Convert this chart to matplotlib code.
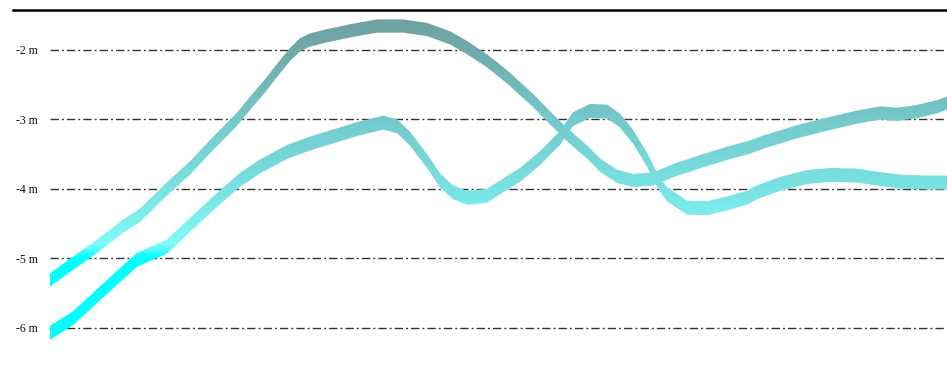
import numpy as np
import matplotlib
matplotlib.use("Agg")
import matplotlib.pyplot as plt
from matplotlib.colors import LinearSegmentedColormap, Normalize
from matplotlib.lines import Line2D

# ---- data (x = sample position, y = depth in metres) ----
track_a_x = [0, 20, 40, 73, 90, 117, 140, 163, 187, 203, 215, 227, 240, 250, 260, 277, 300,
             327, 353, 377, 400, 417, 437, 457, 483, 500, 517, 537, 550, 567, 583, 603, 623,
             650, 677, 700, 713, 747, 780, 807, 830, 847, 867, 887, 897]
track_a_y = [-5.31, -5.10, -4.90, -4.54, -4.38, -4.00, -3.70, -3.35, -3.00, -2.72, -2.52,
             -2.30, -2.07, -1.93, -1.86, -1.80, -1.73, -1.66, -1.66, -1.71, -1.83, -1.97,
             -2.16, -2.39, -2.73, -2.98, -3.22, -3.47, -3.66, -3.82, -3.88, -3.86, -3.74,
             -3.61, -3.49, -3.40, -3.33, -3.18, -3.06, -2.97, -2.91, -2.93, -2.89, -2.82, -2.77]

track_b_x = [0, 23, 57, 87, 117, 140, 167, 190, 210, 237, 260, 287, 310, 333, 347, 360, 377,
             390, 403, 417, 437, 450, 470, 490, 510, 523, 540, 557, 570, 583, 597, 607, 617,
             637, 657, 677, 697, 707, 730, 757, 780, 807, 830, 853, 880, 897]
track_b_y = [-6.07, -5.86, -5.41, -5.02, -4.83, -4.52, -4.16, -3.87, -3.68, -3.47, -3.35, -3.23,
             -3.13, -3.05, -3.10, -3.28, -3.60, -3.88, -4.05, -4.13, -4.10, -3.98, -3.80, -3.56,
             -3.27, -3.00, -2.88, -2.89, -3.02, -3.25, -3.58, -3.87, -4.08, -4.27, -4.28, -4.21,
             -4.13, -4.05, -3.93, -3.83, -3.80, -3.81, -3.86, -3.90, -3.91, -3.91]

tick_values = [-6, -5, -4, -3, -2]
tick_labels = ["-6 m", "-5 m", "-4 m", "-3 m", "-2 m"]

# colour ramp by depth
ramp_levels = [-6.2, -5.0, -4.8, -4.0, -3.0, -2.0, -1.5]
ramp_colors = ["#00FFFF", "#00FFFF", "#80FAFA", "#78E3E3", "#74CACA", "#70AAAA", "#6EA0A0"]

W, H = 947, 369
fig = plt.figure(figsize=(W / 100, H / 100), dpi=100)
ax = fig.add_axes([50 / W, 0, 1 - 50 / W, 1 - 10 / H])

ymin, ymax = -6.59, -1.43
ax.set_xlim(0, 897)
ax.set_ylim(ymin, ymax)

plt.rcParams["lines.scale_dashes"] = False
for v in tick_values:
    ax.axhline(v, color="#333333", lw=1.0, dashes=(6, 2.2, 1.4, 2.2), zorder=1)

lo, hi = ramp_levels[0], ramp_levels[-1]
pos = [(l - lo) / (hi - lo) for l in ramp_levels]
cmap = LinearSegmentedColormap.from_list("depth", list(zip(pos, ramp_colors)))
grad = np.linspace(ymin, ymax, 600)[:, None]

for xs, ys, half in [(track_a_x, track_a_y, 0.095), (track_b_x, track_b_y, 0.10)]:
    xs = np.asarray(xs, float)
    ys = np.asarray(ys, float)
    band = ax.fill_between(xs, ys - half, ys + half, color="none", lw=0)
    im = ax.imshow(grad, extent=[0, 897, ymin, ymax], origin="lower", aspect="auto",
                   cmap=cmap, norm=Normalize(lo, hi), zorder=2, interpolation="bilinear")
    im.set_clip_path(band.get_paths()[0], transform=ax.transData)

ax.set_xlim(0, 897)
ax.set_ylim(ymin, ymax)
ax.set_xticks([])
ax.set_yticks(tick_values)
ax.set_yticklabels(tick_labels, family="Liberation Serif", fontsize=8.5, color="#111111")
ax.tick_params(axis="y", length=0, pad=9)
for s in ax.spines.values():
    s.set_visible(False)

fig.add_artist(Line2D([13 / W, 1], [1 - 10 / H, 1 - 10 / H], transform=fig.transFigure,
                      color="black", lw=1.8))

fig.savefig("out.png", dpi=100)
